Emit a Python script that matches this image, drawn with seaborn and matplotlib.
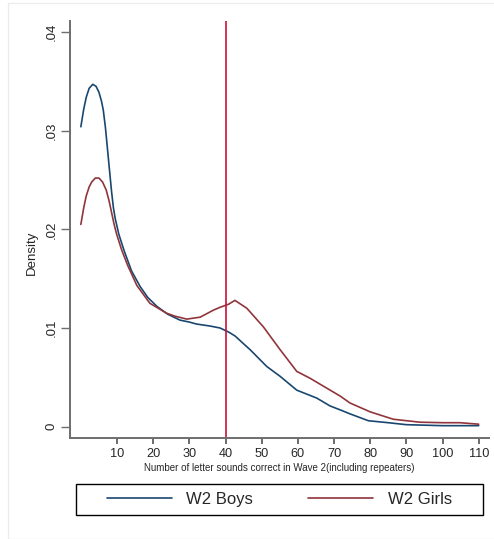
import numpy as np
import pandas as pd
import matplotlib
matplotlib.use("Agg")
import matplotlib.pyplot as plt
import seaborn as sns
from matplotlib.patches import Rectangle

# ---- data ----
boys_x = [0, 0.8, 1.5, 2.3, 3.3, 4.2, 5, 5.7, 6.2, 6.8, 7.4, 8, 8.5, 9, 9.5, 10.5, 12, 14, 16.4,
          18.5, 21, 24, 27.4, 30, 32, 35.7, 38.5, 40.8, 42.6, 46.8, 51.4, 55.1, 59.7, 65.2,
          68.9, 71.7, 74.4, 79.5, 85, 90, 95, 100, 105, 110]
boys_y = [.0304, .0322, .0334, .0343, .0347, .0345, .0339, .0330, .0321, .0303, .0280, .0257,
          .0238, .0222, .0211, .0195, .0178, .0158, .0142, .0131, .0122, .0114, .0108, .0106,
          .0104, .0102, .0100, .0096, .0092, .0078, .0061, .0051, .0037, .0029, .0021, .0017,
          .0013, .0006, .0004, .0002, .00015, .0001, .0001, .0001]
girls_x = [0, 0.8, 1.5, 2.3, 3, 4, 5, 6, 7, 7.8, 8.5, 9.2, 9.9, 11.3, 13, 15.5, 19.1, 23.7, 26,
           29.3, 33, 36.6, 38.5, 40.8, 42.6, 45.9, 50.5, 55.1, 59.7, 63.4, 68, 71.7, 74.4, 80,
           86.4, 93.8, 100, 104.8, 110]
girls_y = [.0205, .0222, .0234, .0243, .0248, .0252, .0252, .0248, .0240, .0229, .0217, .0205,
           .0195, .0179, .0163, .0143, .0125, .0115, .0112, .0109, .0111, .0118, .0121, .0124,
           .0128, .0120, .0101, .0078, .0056, .0049, .0039, .0031, .0024, .0015, .00075,
           .00045, .0004, .0004, .00025]
groups = ["W2 Boys", "W2 Girls"]
x_ticks = [10, 20, 30, 40, 50, 60, 70, 80, 90, 100, 110]
y_ticks = [0, 0.01, 0.02, 0.03, 0.04]
y_ticklabels = ["0", ".01", ".02", ".03", ".04"]
cutoff = 40
xlabel = "Number of letter sounds correct in Wave 2(including repeaters)"
ylabel = "Density"

df = pd.concat([
    pd.DataFrame({"score": boys_x, "density": boys_y, "group": groups[0]}),
    pd.DataFrame({"score": girls_x, "density": girls_y, "group": groups[1]}),
], ignore_index=True)

sns.set_theme(style="white")
plt.rcParams["font.family"] = ["Liberation Sans", "DejaVu Sans"]

W, H = 494, 539
fig = plt.figure(figsize=(W / 100, H / 100), dpi=100)
fig.patch.set_facecolor("white")
# faint outer graph-region border
fig.patches.append(Rectangle((8 / W, 0), 1, 1 - 3 / H, transform=fig.transFigure,
                             fill=False, edgecolor="#ececec", linewidth=1.0))

L, R, T, B = 70, 489, 21, 437.7
ax = fig.add_axes([L / W, 1 - B / H, (R - L) / W, (B - T) / H])

palette = {"W2 Boys": "#1a476f", "W2 Girls": "#90353b"}
sns.lineplot(data=df, x="score", y="density", hue="group", palette=palette,
             ax=ax, legend=False, linewidth=1.2, sort=False)
for ln in ax.get_lines():
    ln.set_solid_joinstyle("round")
ax.axvline(cutoff, color="#c8103a", linewidth=1.2)

ax.set_xlim(-3.0, 112.85)
ax.set_ylim(-0.00112, 0.04112)
ax.set_xticks(x_ticks)
ax.set_xticklabels([str(t) for t in x_ticks], fontsize=9.2)
ax.set_yticks(y_ticks)
ax.set_yticklabels(y_ticklabels, fontsize=9.5, rotation=90, va="center")

for s in ["top", "right"]:
    ax.spines[s].set_visible(False)
for s in ["left", "bottom"]:
    ax.spines[s].set_color("#6e6e6e")
    ax.spines[s].set_linewidth(1.4)
ax.tick_params(axis="x", which="both", direction="out", length=4.3, width=1.1,
               color="#444444", pad=3.0, bottom=True)
ax.tick_params(axis="y", which="both", direction="out", length=6.5, width=1.0,
               color="#6e6e6e", pad=2.5, left=True)

ax.set_xlabel(xlabel, fontsize=7.0, va="center", ha="center")
ax.set_ylabel(ylabel, fontsize=9.5, va="center", ha="center")
ax.xaxis.set_label_coords((278.9 - L) / (R - L), (B - 468.3) / (B - T))
ax.yaxis.set_label_coords((32 - L) / (R - L), (B - 253) / (B - T))

# legend box below plot
fig.patches.append(Rectangle((76 / W, 1 - 515 / H), (483 - 76) / W, (515 - 484) / H,
                             transform=fig.transFigure, fill=False,
                             edgecolor="black", linewidth=1.0))
handles = ax.get_lines()[:2]
fig.legend(handles, groups, loc="center", bbox_to_anchor=(279.5 / W, 1 - 499.5 / H),
           ncol=2, frameon=False, fontsize=12, handlelength=3.9, handletextpad=0.85,
           columnspacing=3.3)

fig.savefig("out.png", dpi=100, facecolor="white")
